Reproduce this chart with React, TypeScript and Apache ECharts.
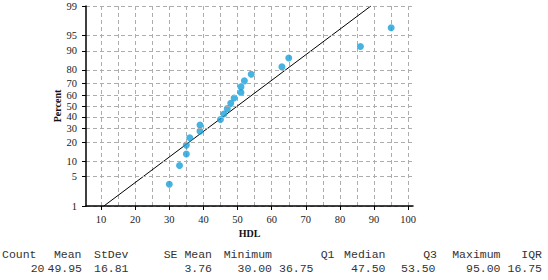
import React, { useEffect, useRef } from "react";
import * as echarts from "echarts";

// ---- data ----
const HDL = [30, 33, 35, 35, 36, 39, 39, 45, 46, 47, 48, 49, 51, 51, 52, 54, 63, 65, 86, 95];
const PERCENT = [3.43, 8.33, 13.24, 18.14, 23.04, 27.94, 32.84, 37.75, 42.65, 47.55, 52.45, 57.35, 62.25, 67.16, 72.06, 76.96, 81.86, 86.76, 91.67, 96.57];
const Y_TICKS = [1, 5, 10, 20, 30, 40, 50, 60, 70, 80, 90, 95, 99];
const X_TICKS = [10, 20, 30, 40, 50, 60, 70, 80, 90, 100];
const X_GRID = [10, 15, 20, 25, 30, 35, 40, 45, 50, 55, 60, 65, 70, 75, 80, 85, 90, 95, 100];
const FIT_MEAN = 49.95;
const FIT_STDEV = 16.81;
const STAT_NAMES = ["Count", "Mean", "StDev", "SE Mean", "Minimum", "Q1", "Median", "Q3", "Maximum", "IQR"];
const STAT_VALUES = ["20", "49.95", "16.81", "3.76", "30.00", "36.75", "47.50", "53.50", "95.00", "16.75"];

// ---- layout ----
const X_MIN = 5.6;
const X_MAX = 101.4;
const GRID_LEFT = 86;
const GRID_RIGHT = 135;
const GRID_TOP = 6;
const GRID_BOTTOM = 74;
const NAME_RIGHT = [36.5, 81.5, 128.5, 212, 272, 334.5, 385.5, 437, 500.5, 542];
const VALUE_RIGHT = [44.5, 82, 128.5, 212, 272, 313.5, 385.5, 435.5, 500.5, 542];

function probit(p: number): number {
  const a = [-3.969683028665376e1, 2.209460984245205e2, -2.759285104469687e2, 1.38357751867269e2, -3.066479806614716e1, 2.506628277459239];
  const b = [-5.447609879822406e1, 1.615858368580409e2, -1.556989798598866e2, 6.680131188771972e1, -1.328068155288572e1];
  const c = [-7.784894002430293e-3, -3.223964580411365e-1, -2.400758277161838, -2.549732539343734, 4.374664141464968, 2.938163982698783];
  const d = [7.784695709041462e-3, 3.224671290700398e-1, 2.445134137142996, 3.754408661907416];
  const plow = 0.02425;
  const phigh = 1 - plow;
  let q, r;
  if (p < plow) {
    q = Math.sqrt(-2 * Math.log(p));
    return (((((c[0] * q + c[1]) * q + c[2]) * q + c[3]) * q + c[4]) * q + c[5]) / ((((d[0] * q + d[1]) * q + d[2]) * q + d[3]) * q + 1);
  } else if (p <= phigh) {
    q = p - 0.5;
    r = q * q;
    return ((((((a[0] * r + a[1]) * r + a[2]) * r + a[3]) * r + a[4]) * r + a[5]) * q) / (((((b[0] * r + b[1]) * r + b[2]) * r + b[3]) * r + b[4]) * r + 1);
  } else {
    q = Math.sqrt(-2 * Math.log(1 - p));
    return -(((((c[0] * q + c[1]) * q + c[2]) * q + c[3]) * q + c[4]) * q + c[5]) / ((((d[0] * q + d[1]) * q + d[2]) * q + d[3]) * q + 1);
  }
}

export default function App() {
  const ref = useRef<HTMLDivElement>(null);
  useEffect(() => {
    document.body.style.margin = "0";
    if (!ref.current) return;
    const chart = echarts.init(ref.current, null, { renderer: "svg" });
    const yTickVals = Y_TICKS.map((p) => probit(p / 100));
    const yMin = probit(Y_TICKS[0] / 100);
    const yMax = probit(Y_TICKS[Y_TICKS.length - 1] / 100);
    const fitLine = [
      [FIT_MEAN + yMin * FIT_STDEV, yMin],
      [FIT_MEAN + yMax * FIT_STDEV, yMax],
    ];
    const points = HDL.map((x, i) => [x, probit(PERCENT[i] / 100)]);
    const gridLineStyle = { color: "#adadad", width: 1, type: [4, 3] };

    const labelFont = { fontFamily: "Liberation Serif", fontSize: 10.5, color: "#222" };
    const tableFont = "11.5px 'Liberation Mono'";
    const tableText: any[] = [];
    STAT_NAMES.forEach((n, i) => {
      tableText.push({
        type: "text", x: NAME_RIGHT[i], y: 254,
        style: { text: n, fill: "#333", font: tableFont, align: "right", verticalAlign: "middle" },
      });
      tableText.push({
        type: "text", x: VALUE_RIGHT[i], y: 268.5,
        style: { text: STAT_VALUES[i], fill: "#333", font: tableFont, align: "right", verticalAlign: "middle" },
      });
    });
    chart.setOption({
      animation: false,
      grid: { left: GRID_LEFT, right: GRID_RIGHT, top: GRID_TOP, bottom: GRID_BOTTOM, containLabel: false },
      xAxis: [
        {
          type: "value", min: X_MIN, max: X_MAX, z: 10,
          axisLine: { show: true, onZero: false, lineStyle: { color: "#000", width: 1.5 } },
          axisTick: { show: true, length: 4, customValues: X_TICKS, lineStyle: { color: "#000" } },
          axisLabel: { ...labelFont, margin: 8, customValues: X_TICKS },
          splitLine: { show: false },
        },
        {
          type: "value", position: "bottom", z: 1, min: X_MIN, max: X_MAX,
          axisLine: { show: false }, axisLabel: { show: false },
          axisTick: { show: false, customValues: X_GRID },
          splitLine: { show: true, lineStyle: gridLineStyle },
        },
      ],
      yAxis: [
        {
          type: "value", min: yMin, max: yMax, z: 10,
          axisLine: { show: true, onZero: false, lineStyle: { color: "#000", width: 1.5 } },
          axisTick: { show: true, length: 4, customValues: yTickVals, lineStyle: { color: "#000" } },
          axisLabel: {
            ...labelFont, margin: 9, customValues: yTickVals,
            formatter: (v: number) => {
              let best = 0;
              yTickVals.forEach((t, i) => { if (Math.abs(t - v) < Math.abs(yTickVals[best] - v)) best = i; });
              return String(Y_TICKS[best]);
            },
          },
          splitLine: { show: true, lineStyle: gridLineStyle },
        },
      ],
      graphic: [
        {
          type: "text", x: 57, y: 106, rotation: Math.PI / 2,
          style: { text: "Percent", fill: "#111", font: "bold 10px 'Liberation Serif'", align: "center", verticalAlign: "middle" },
        },
        {
          type: "text", x: 249.5, y: 233,
          style: { text: "HDL", fill: "#111", font: "bold 10px 'Liberation Serif'", align: "center", verticalAlign: "middle" },
        },
        ...tableText,
      ],
      series: [
        {
          type: "line", data: fitLine, z: 3, symbol: "none", silent: true,
          lineStyle: { color: "#000", width: 1 },
        },
        {
          type: "scatter", data: points, z: 4, symbol: "circle", symbolSize: 7,
          itemStyle: { color: "#1aa0d8" },
        },
      ],
    });
    return () => chart.dispose();
  }, []);
  return <div ref={ref} style={{ position: "absolute", left: 0, top: 0, width: 548, height: 280 }} />;
}
